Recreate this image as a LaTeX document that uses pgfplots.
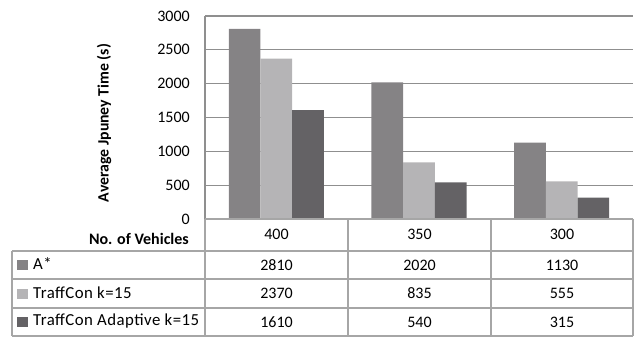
\documentclass[border=0pt]{standalone}
\usepackage{pgfplots}
\pgfplotsset{compat=1.18}
\usepackage{fontspec}
\setmainfont{Carlito}
\definecolor{cA}{HTML}{858385}
\definecolor{cB}{HTML}{B5B4B6}
\definecolor{cC}{HTML}{646265}
\definecolor{gl}{HTML}{8F8F8F}
\definecolor{tl}{HTML}{A6A6A6}
\begin{document}
\fontsize{16}{19}\selectfont
\begin{tikzpicture}[x=1pt,y=1pt]
\useasboundingbox (0,0) rectangle (635,337);
\begin{axis}[at={(205pt,118pt)}, anchor=south west, scale only axis,
  width=428pt, height=203pt,
  xmin=-0.5, xmax=2.5, ymin=0, ymax=3000,
  ytick={0,500,...,3000}, xtick=\empty,
  ymajorgrids, grid style={gl, line width=1.1pt},
  axis line style={draw=none},
  major tick length=0pt,
  yticklabel style={font=\fontsize{16}{19}\selectfont, xshift=-9.7pt},
  /pgf/number format/assume math mode=true,
  /pgf/number format/1000 sep={},
  clip=false]
\addplot[ybar, bar width=31.7pt, bar shift=-31.7pt, fill=cA, draw=none] coordinates {(0,2810) (1,2020) (2,1130)};
\addplot[ybar, bar width=31.7pt, bar shift=0pt, fill=cB, draw=none] coordinates {(0,2370) (1,835) (2,555)};
\addplot[ybar, bar width=31.7pt, bar shift=31.7pt, fill=cC, draw=none] coordinates {(0,1610) (1,540) (2,315)};
\end{axis}
% axis left line
\draw[gl, line width=1.1pt] (205,118) -- (205,321);
% table lines
\begin{scope}[tl, line width=1.1pt]
\draw (205,118) -- (633,118);
\draw (12,86) -- (633,86);
\draw (12,58) -- (633,58);
\draw (12,29) -- (633,29);
\draw (12,1) -- (633,1);
\draw (12,1) -- (12,86);
\draw (205,1) -- (205,118);
\draw (348,1) -- (348,118);
\draw (491,1) -- (491,118);
\draw (633,1) -- (633,118);
\end{scope}
% y label
\node[rotate=90, font=\bfseries\fontsize{15.8}{18}\selectfont] at (104,214) {Average Jpuney Time (s)};
% table text
\node[anchor=base east, font=\bfseries, inner sep=0pt] at (189,92) {No. of Vehicles};
\node at (276.5,103) {400};
\node at (419.5,103) {350};
\node at (562,103) {300};
\begin{scope}[font=\fontsize{16.8}{19}\selectfont\addfontfeatures{LetterSpace=2.7}]
\fill[cA] (17,67) rectangle (28,77);
\node[anchor=west, inner sep=0pt] at (33,73) {A*};
\fill[cB] (17,38) rectangle (28,48);
\node[anchor=west, inner sep=0pt] at (33,44) {TraffCon k=15};
\fill[cC] (17,10) rectangle (28,20);
\node[anchor=west, inner sep=0pt] at (33,15.5) {TraffCon Adaptive k=15};
\end{scope}
\node at (276.5,72) {2810};
\node at (419.5,72) {2020};
\node at (562,72) {1130};
\node at (276.5,43.5) {2370};
\node at (419.5,43.5) {835};
\node at (562,43.5) {555};
\node at (276.5,15) {1610};
\node at (419.5,15) {540};
\node at (562,15) {315};
\end{tikzpicture}
\end{document}
